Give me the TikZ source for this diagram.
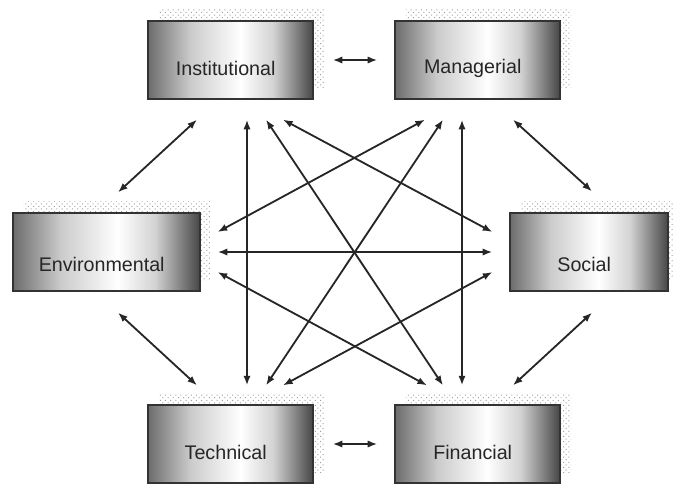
\documentclass[tikz,border=0pt]{standalone}
\usepackage{fontspec}
\setmainfont{Liberation Sans}
\usepackage{xcolor}
\usepackage{tikz}
\usetikzlibrary{arrows.meta,patterns.meta,shadows,calc}

\pgfdeclarehorizontalshading{boxshade}{100bp}{color(0bp)=(gray!85!black); color(25bp)=(gray!85!black); color(38bp)=(gray!40); color(53bp)=(white); color(63bp)=(gray!35); color(75bp)=(gray!55!black); color(100bp)=(gray!55!black)}

\tikzset{
  factor/.style={draw=black!80, line width=0.9pt, shading=boxshade, minimum width=4.125cm, minimum height=1.95cm, inner sep=0pt,
    general shadow={shadow xshift=2.75mm, shadow yshift=2.75mm, pattern={Dots[angle=45, distance=2.6pt, radius=0.5pt]}, pattern color=gray!75}},
  lbl/.style={text=black!85, font=\fontsize{14}{16}\selectfont, xshift=-1.2mm, yshift=-2.2mm},
  link/.style={{Latex[length=2.4mm,width=1.8mm]}-{Latex[length=2.4mm,width=1.8mm]}, line width=1.3pt, black!85}
}

\begin{document}
\begin{tikzpicture}[x=0.025cm, y=-0.025cm]
  \useasboundingbox (0,0) rectangle (673,483); %像素坐标
  \node (inst) [factor, label={[lbl, name=inst-t]center:Institutional}] at (230.5,60) {};
  \node (mgr) [factor, label={[lbl, name=mgr-t]center:Managerial}] at (477.5,60) {};
  \node (env) [factor, minimum width=4.675cm, label={[lbl, yshift=-1mm, name=env-t]center:Environmental}] at (106.5,252) {};
  \node (soc) [factor, minimum width=3.95cm, label={[lbl, yshift=-1mm, name=soc-t]center:Social}] at (589,252) {};
  \node (tech) [factor, label={[lbl, name=tech-t]center:Technical}] at (230.5,444) {};
  \node (fin) [factor, label={[lbl, name=fin-t]center:Financial}] at (477.5,444) {};
  % 两两相连
  \draw[link] ([shift={(19,0)}]inst.east) -- ([shift={(-17,0)}]mgr.west);
  \draw[link] ([shift={(19,0)}]tech.east) -- ([shift={(-17,0)}]fin.west);
  \draw[link] ([shift={(-33.5,20)}]inst.south) -- ([shift={(11.5,-20)}]env.north);
  \draw[link] ([shift={(35.5,20)}]mgr.south) -- ([shift={(3,-21)}]soc.north);
  \draw[link] ([shift={(11.5,21)}]env.south) -- ([shift={(-33.5,-19)}]tech.north);
  \draw[link] ([shift={(3,21)}]soc.south) -- ([shift={(35.5,-19)}]fin.north);
  \draw[link] ([shift={(16.5,20)}]inst.south) -- ([shift={(16.5,-19)}]tech.north);
  \draw[link] ([shift={(-15.5,20)}]mgr.south) -- ([shift={(-15.5,-19)}]fin.north);
  \draw[link] ([shift={(35.5,20)}]inst.south) -- ([shift={(-34.5,-19)}]fin.north);
  \draw[link] ([shift={(-34.5,20)}]mgr.south) -- ([shift={(35.5,-19)}]tech.north);
  \draw[link] ([shift={(52.5,20)}]inst.south) -- ([shift={(-17,-20)}]soc.west);
  \draw[link] ([shift={(-52.5,20)}]mgr.south) -- ([shift={(17,-20)}]env.east);
  \draw[link] ([shift={(17,0)}]env.east) -- ([shift={(-17,0)}]soc.west);
  \draw[link] ([shift={(17,20)}]env.east) -- ([shift={(-50.5,-19)}]fin.north);
  \draw[link] ([shift={(-17,20)}]soc.west) -- ([shift={(52.5,-19)}]tech.north);
\end{tikzpicture}
\end{document}
